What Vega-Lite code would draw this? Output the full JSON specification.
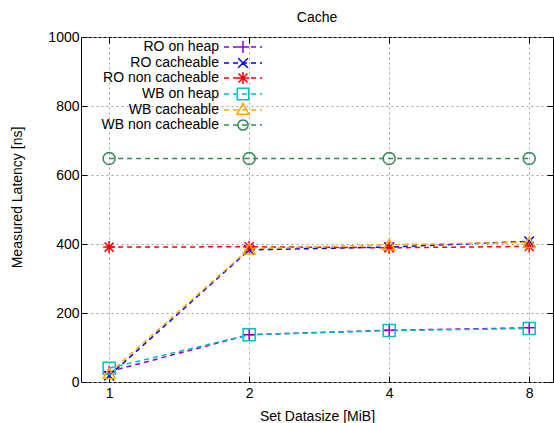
{
  "$schema": "https://vega.github.io/schema/vega-lite/v6.json",
  "width": 472,
  "height": 345,
  "autosize": {"type": "none"},
  "padding": {"left": 81, "top": 37, "right": 1, "bottom": 41},
  "background": "white",
  "title": {"text": "Cache", "fontSize": 14, "fontWeight": "normal", "font": "Liberation Sans", "color": "#000", "offset": 5, "anchor": "middle"},
  "config": {
    "font": "Liberation Sans",
    "view": {"stroke": "#000", "strokeWidth": 1},
    "axis": {
      "labelFont": "Liberation Sans", "titleFont": "Liberation Sans",
      "labelFontSize": 14, "titleFontSize": 14, "titleFontWeight": "normal",
      "labelColor": "#000", "titleColor": "#000",
      "domain": false, "tickColor": "#000", "tickSize": -6, "tickWidth": 1,
      "grid": true, "gridColor": "#a0a0a0", "gridDash": [2, 3], "gridWidth": 1, "gridOpacity": 1
    },
    "legend": {"labelFont": "Liberation Sans", "labelFontSize": 14, "labelColor": "#000"}
  },
  "data": {"values": [
    {"series": "RO on heap", "size": 1, "latency": 30},
    {"series": "RO on heap", "size": 2, "latency": 137},
    {"series": "RO on heap", "size": 4, "latency": 150},
    {"series": "RO on heap", "size": 8, "latency": 157},
    {"series": "RO cacheable", "size": 1, "latency": 18},
    {"series": "RO cacheable", "size": 2, "latency": 383},
    {"series": "RO cacheable", "size": 4, "latency": 391},
    {"series": "RO cacheable", "size": 8, "latency": 408},
    {"series": "RO non cacheable", "size": 1, "latency": 391},
    {"series": "RO non cacheable", "size": 2, "latency": 392},
    {"series": "RO non cacheable", "size": 4, "latency": 389},
    {"series": "RO non cacheable", "size": 8, "latency": 393},
    {"series": "WB on heap", "size": 1, "latency": 40},
    {"series": "WB on heap", "size": 2, "latency": 137},
    {"series": "WB on heap", "size": 4, "latency": 149},
    {"series": "WB on heap", "size": 8, "latency": 155},
    {"series": "WB cacheable", "size": 1, "latency": 25},
    {"series": "WB cacheable", "size": 2, "latency": 386},
    {"series": "WB cacheable", "size": 4, "latency": 398},
    {"series": "WB cacheable", "size": 8, "latency": 405},
    {"series": "WB non cacheable", "size": 1, "latency": 648},
    {"series": "WB non cacheable", "size": 2, "latency": 648},
    {"series": "WB non cacheable", "size": 4, "latency": 648},
    {"series": "WB non cacheable", "size": 8, "latency": 648}
  ]},
  "layer": [
    {
      "mark": {"type": "line", "strokeDash": [5, 4], "strokeWidth": 1.5},
      "encoding": {
        "x": {"field": "size", "type": "quantitative",
          "scale": {"type": "log", "base": 2, "domain": [0.87, 9], "nice": false, "zero": false},
          "axis": {"values": [1, 2, 4, 8], "title": "Set Datasize [MiB]", "labelPadding": 10, "titlePadding": 9, "format": "d"}},
        "y": {"field": "latency", "type": "quantitative",
          "scale": {"domain": [0, 1000], "nice": false},
          "axis": {"values": [0, 200, 400, 600, 800, 1000], "format": "d", "title": "Measured Latency [ns]", "labelPadding": 8, "titlePadding": 23, "titleY": 160}},
        "color": {"field": "series", "type": "nominal",
          "scale": {"domain": ["RO on heap", "RO cacheable", "RO non cacheable", "WB on heap", "WB cacheable", "WB non cacheable"],
                    "range": ["#9400d3", "#0000ff", "#ff0000", "#00c0c0", "#ffa500", "#2e8b57"]},
          "legend": null}
      }
    },
    {
      "mark": {"type": "point", "filled": false, "strokeWidth": 1.5, "size": 144, "opacity": 1},
      "encoding": {
        "x": {"field": "size", "type": "quantitative", "axis": null},
        "y": {"field": "latency", "type": "quantitative", "axis": null},
        "color": {"field": "series", "type": "nominal",
          "scale": {"domain": ["RO on heap", "RO cacheable", "RO non cacheable", "WB on heap", "WB cacheable", "WB non cacheable"],
                    "range": ["#9400d3", "#0000ff", "#ff0000", "#00c0c0", "#ffa500", "#2e8b57"]},
          "legend": null},
        "shape": {"field": "series", "type": "nominal",
          "scale": {"domain": ["RO on heap", "RO cacheable", "RO non cacheable", "WB on heap", "WB cacheable", "WB non cacheable"],
                    "range": ["M-1,0L1,0M0,-1L0,1", "M-0.8,-0.8L0.8,0.8M-0.8,0.8L0.8,-0.8", "M-1,0L1,0M0,-1L0,1M-0.75,-0.75L0.75,0.75M-0.75,0.75L0.75,-0.75", "square", "triangle-up", "circle"]},
          "legend": null}
      }
    },
    {
      "transform": [{"filter": "datum.size > 100"}],
      "mark": {"type": "point", "filled": false, "strokeWidth": 1.5, "size": 144, "opacity": 1},
      "encoding": {
        "x": {"field": "size", "type": "quantitative",
          "axis": {"orient": "top", "values": [1, 2, 4, 8], "labels": false, "title": null, "grid": false}},
        "y": {"field": "latency", "type": "quantitative",
          "axis": {"orient": "right", "values": [0, 200, 400, 600, 800, 1000], "labels": false, "title": null, "grid": false}},
        "color": {"field": "series", "type": "nominal",
          "scale": {"domain": ["RO on heap", "RO cacheable", "RO non cacheable", "WB on heap", "WB cacheable", "WB non cacheable"],
                    "range": ["#9400d3", "#0000ff", "#ff0000", "#00c0c0", "#ffa500", "#2e8b57"]},
          "legend": {"orient": "none", "legendX": 155, "legendY": 3, "title": null, "padding": 0,
            "symbolSize": 144, "symbolStrokeWidth": 1.5, "symbolFillColor": "transparent", "symbolOpacity": 1,
            "rowPadding": -6.9, "labelAlign": "right", "labelOffset": -31}},
        "shape": {"field": "series", "type": "nominal",
          "scale": {"domain": ["RO on heap", "RO cacheable", "RO non cacheable", "WB on heap", "WB cacheable", "WB non cacheable"],
                    "range": [
                      "M-3.17,0L-2.33,0M-1.67,0L-0.83,0M-0.17,0L0.67,0M1.33,0L2.17,0M2.83,0L3.17,0M-1,0L1,0M0,-1L0,1",
                      "M-3.17,0L-2.33,0M-1.67,0L-0.83,0M-0.17,0L0.67,0M1.33,0L2.17,0M2.83,0L3.17,0M-0.8,-0.8L0.8,0.8M-0.8,0.8L0.8,-0.8",
                      "M-3.17,0L-2.33,0M-1.67,0L-0.83,0M-0.17,0L0.67,0M1.33,0L2.17,0M2.83,0L3.17,0M-1,0L1,0M0,-1L0,1M-0.75,-0.75L0.75,0.75M-0.75,0.75L0.75,-0.75",
                      "M-3.17,0L-2.33,0M-1.67,0L-0.83,0M-0.17,0L0.67,0M1.33,0L2.17,0M2.83,0L3.17,0M-0.95,-0.95L0.95,-0.95L0.95,0.95L-0.95,0.95Z",
                      "M-3.17,0L-2.33,0M-1.67,0L-0.83,0M-0.17,0L0.67,0M1.33,0L2.17,0M2.83,0L3.17,0M0,-1.1L1,0.7L-1,0.7Z",
                      "M-3.17,0L-2.33,0M-1.67,0L-0.83,0M-0.17,0L0.67,0M1.33,0L2.17,0M2.83,0L3.17,0M0.85,0A0.85,0.85 0 1,1 -0.85,0A0.85,0.85 0 1,1 0.85,0Z"
                    ]},
          "legend": {"orient": "none", "legendX": 155, "legendY": 3, "title": null, "padding": 0,
            "symbolSize": 144, "symbolStrokeWidth": 1.5, "symbolFillColor": "transparent", "symbolOpacity": 1,
            "rowPadding": -6.9, "labelAlign": "right", "labelOffset": -31}}
      }
    }
  ],
  "resolve": {
    "scale": {"color": "independent", "shape": "independent"},
    "legend": {"color": "independent", "shape": "independent"},
    "axis": {"x": "independent", "y": "independent"}
  }
}
